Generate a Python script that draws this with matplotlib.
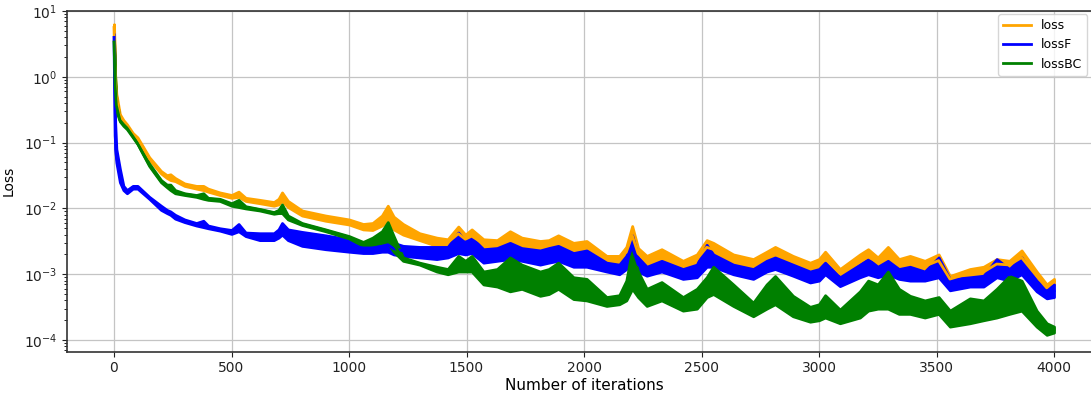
import numpy as np
import matplotlib
matplotlib.use("Agg")
import matplotlib.pyplot as plt

# Iteration positions at which the values were read
iters = [0, 5, 10, 25, 40, 55, 80, 100, 150, 200, 225, 240, 260, 300, 350, 380, 400, 450,
         500, 530, 560, 620, 680, 700, 715, 740, 800, 900, 1000, 1060, 1100, 1140, 1165,
         1190, 1230, 1300, 1373, 1420, 1465, 1495, 1522, 1572, 1630, 1685, 1735, 1813,
         1850, 1890, 1955, 2011, 2096, 2150, 2180, 2205, 2230, 2267, 2330, 2421, 2480,
         2522, 2550, 2635, 2720, 2777, 2813, 2889, 2962, 3000, 3026, 3089, 3174, 3209,
         3250, 3293, 3340, 3387, 3450, 3509, 3557, 3642, 3700, 3756, 3810, 3862, 3926,
         3969, 4000]

# loss (orange): lower / upper envelope of the noisy band
loss_lo = [5.0, 0.8, 0.45, 0.24, 0.20, 0.17, 0.13, 0.11, 0.055, 0.034, 0.029, 0.027, 0.026,
           0.022, 0.020, 0.019, 0.018, 0.016, 0.0145, 0.015, 0.013, 0.012, 0.011, 0.0115,
           0.013, 0.0105, 0.0078, 0.0065, 0.0057, 0.0048, 0.0047, 0.0055, 0.0065, 0.0048,
           0.0040, 0.0033, 0.0027, 0.0027, 0.0032, 0.0029, 0.0030, 0.0025, 0.0025, 0.0029,
           0.0025, 0.0023, 0.0024, 0.0026, 0.0021, 0.0022, 0.0016, 0.0015, 0.0018, 0.0028,
           0.0017, 0.0013, 0.0016, 0.0012, 0.0014, 0.0020, 0.0019, 0.0014, 0.0012, 0.0015,
           0.0017, 0.0013, 0.0011, 0.0012, 0.0014, 0.00088, 0.0012, 0.0014, 0.0013, 0.0015,
           0.0012, 0.0012, 0.0011, 0.0013, 0.00076, 0.0009, 0.0009, 0.0012, 0.0012, 0.0014,
           0.0008, 0.00055, 0.0007]
loss_hi = [6.3, 1.0, 0.55, 0.27, 0.22, 0.19, 0.14, 0.12, 0.060, 0.037, 0.032, 0.033, 0.029,
           0.024, 0.022, 0.022, 0.020, 0.0175, 0.016, 0.018, 0.0145, 0.0135, 0.0125, 0.014,
           0.0175, 0.013, 0.0093, 0.0078, 0.0068, 0.0058, 0.0060, 0.0078, 0.011, 0.0075,
           0.0058, 0.0042, 0.0036, 0.0034, 0.0053, 0.0040, 0.0048, 0.0034, 0.0033, 0.0045,
           0.0036, 0.0032, 0.0033, 0.0039, 0.0030, 0.0032, 0.0019, 0.0019, 0.0026, 0.0054,
           0.0025, 0.0019, 0.0024, 0.0016, 0.0020, 0.0033, 0.0030, 0.0020, 0.0017, 0.0022,
           0.0026, 0.0019, 0.0015, 0.0017, 0.0022, 0.0012, 0.0020, 0.0024, 0.0018, 0.0026,
           0.0017, 0.0019, 0.0016, 0.0020, 0.00094, 0.0012, 0.0013, 0.0017, 0.0016, 0.0023,
           0.0011, 0.0007, 0.00085]

# lossF (blue)
lossF_lo = [3.5, 0.08, 0.05, 0.025, 0.019, 0.017, 0.020, 0.020, 0.014, 0.0095, 0.0085, 0.008,
            0.007, 0.0062, 0.0055, 0.0052, 0.0050, 0.0046, 0.0041, 0.0045, 0.0038, 0.0033,
            0.0033, 0.0036, 0.0040, 0.0033, 0.0027, 0.0024, 0.0022, 0.0021, 0.0021, 0.0022,
            0.0022, 0.0020, 0.0019, 0.0018, 0.0017, 0.0018, 0.0021, 0.0020, 0.0021, 0.0015,
            0.0016, 0.0017, 0.0016, 0.0014, 0.0015, 0.0016, 0.0013, 0.0013, 0.0011, 0.0010,
            0.0012, 0.0018, 0.0011, 0.00095, 0.0011, 0.00085, 0.0009, 0.0013, 0.0013, 0.0010,
            0.00085, 0.0011, 0.0012, 0.00095, 0.00075, 0.0008, 0.0010, 0.00066, 0.0009, 0.0010,
            0.0009, 0.0010, 0.00085, 0.0008, 0.0008, 0.0009, 0.00057, 0.00065, 0.00065, 0.0009,
            0.0008, 0.0010, 0.00055, 0.00043, 0.00045]
lossF_hi = [4.5, 0.2, 0.08, 0.04, 0.022, 0.019, 0.022, 0.022, 0.015, 0.011, 0.0095, 0.009,
            0.008, 0.0068, 0.0060, 0.0065, 0.0055, 0.0050, 0.0047, 0.0058, 0.0043, 0.0042,
            0.0042, 0.0048, 0.0060, 0.0048, 0.0044, 0.0039, 0.0034, 0.0030, 0.0030, 0.0032,
            0.0036, 0.0030, 0.0027, 0.0026, 0.0026, 0.0026, 0.0043, 0.0032, 0.0036, 0.0024,
            0.0025, 0.0030, 0.0025, 0.0023, 0.0025, 0.0027, 0.0021, 0.0023, 0.0015, 0.0014,
            0.0019, 0.0039, 0.0018, 0.0013, 0.0016, 0.0012, 0.0014, 0.0028, 0.0020, 0.0014,
            0.0012, 0.0016, 0.0018, 0.0014, 0.0011, 0.0012, 0.0015, 0.0009, 0.0014, 0.0017,
            0.0013, 0.0016, 0.0012, 0.0013, 0.0011, 0.0018, 0.00084, 0.0009, 0.00095, 0.0017,
            0.0012, 0.0018, 0.0008, 0.0006, 0.0007]

# lossBC (green)
lossBC_lo = [3.0, 0.5, 0.3, 0.21, 0.18, 0.16, 0.12, 0.095, 0.044, 0.025, 0.021, 0.019, 0.017,
             0.016, 0.015, 0.014, 0.0135, 0.013, 0.011, 0.0105, 0.0100, 0.0093, 0.0083,
             0.0085, 0.0085, 0.0068, 0.0056, 0.0045, 0.0035, 0.0027, 0.0028, 0.0030, 0.0030,
             0.0022, 0.0016, 0.0014, 0.0011, 0.0010, 0.0011, 0.0011, 0.0011, 0.0007, 0.00065,
             0.00055, 0.0006, 0.00047, 0.0005, 0.0006, 0.00042, 0.0004, 0.00033, 0.00035,
             0.0004, 0.0006, 0.00045, 0.00033, 0.0004, 0.00028, 0.0003, 0.00045, 0.0005,
             0.00033, 0.00023, 0.0003, 0.00035, 0.00023, 0.00019, 0.0002, 0.00022, 0.00018,
             0.00022, 0.00028, 0.0003, 0.0003, 0.00025, 0.00025, 0.00022, 0.00025, 0.00016,
             0.00018, 0.0002, 0.00022, 0.00025, 0.00028, 0.00016, 0.00012, 0.00013]
lossBC_hi = [3.8, 1.0, 0.45, 0.23, 0.20, 0.175, 0.13, 0.10, 0.048, 0.027, 0.023, 0.023, 0.019,
             0.017, 0.016, 0.017, 0.0145, 0.014, 0.012, 0.0135, 0.0108, 0.0098, 0.0088,
             0.0095, 0.0115, 0.0078, 0.0060, 0.0048, 0.0038, 0.0031, 0.0036, 0.0045, 0.0062,
             0.0038, 0.0018, 0.0015, 0.0013, 0.0012, 0.0019, 0.0016, 0.0019, 0.0011, 0.0012,
             0.0018, 0.0014, 0.0011, 0.0012, 0.0015, 0.0009, 0.00085, 0.00045, 0.00048,
             0.0008, 0.0024, 0.0011, 0.0006, 0.00076, 0.00045, 0.0006, 0.0009, 0.0013, 0.0007,
             0.00037, 0.0007, 0.00094, 0.00047, 0.00032, 0.00035, 0.00048, 0.00029, 0.00055,
             0.0008, 0.0007, 0.0011, 0.0006, 0.00047, 0.0004, 0.00045, 0.00028, 0.00043,
             0.0004, 0.0006, 0.00094, 0.0008, 0.00028, 0.00018, 0.00016]

series = [("loss", loss_lo, loss_hi, "#FFA500"),
          ("lossF", lossF_lo, lossF_hi, "#0000FF"),
          ("lossBC", lossBC_lo, lossBC_hi, "#008000")]

W, H = 1091, 396
fig = plt.figure(figsize=(W / 100, H / 100), dpi=100)
ax = fig.add_axes([67 / W, 1 - 351.5 / H, (1101 - 67) / W, (351.5 - 11) / H])

x = np.asarray(iters, dtype=float)
for name, lo, hi, col in series:
    lo = np.asarray(lo)
    hi = np.asarray(hi)
    ax.fill_between(x, lo, hi, color=col, lw=2.0, edgecolor=col)
    ax.plot(x, np.sqrt(lo * hi), color=col, lw=2, label=name)

ax.set_yscale("log")
ax.set_xlim(-200, 4200)
ax.set_ylim(6.7e-5, 10)
ax.set_xticks(np.arange(0, 4001, 500))
ax.grid(True, which="major", color="#c4c4c4", lw=0.9)
ax.set_axisbelow(True)
ax.tick_params(labelsize=10, colors="#222222")
for s in ax.spines.values():
    s.set_color("#333333")
    s.set_linewidth(1.2)
ax.set_xlabel("Number of iterations", fontsize=11, labelpad=2)
ax.set_ylabel("Loss", fontsize=10, labelpad=6)

ax.legend(loc="upper right", bbox_to_anchor=(1087 / W, 1 - 14 / H),
          bbox_transform=fig.transFigure, borderaxespad=0, fontsize=9,
          framealpha=0.8, handlelength=2.2)

fig.savefig("out.png", dpi=100)
